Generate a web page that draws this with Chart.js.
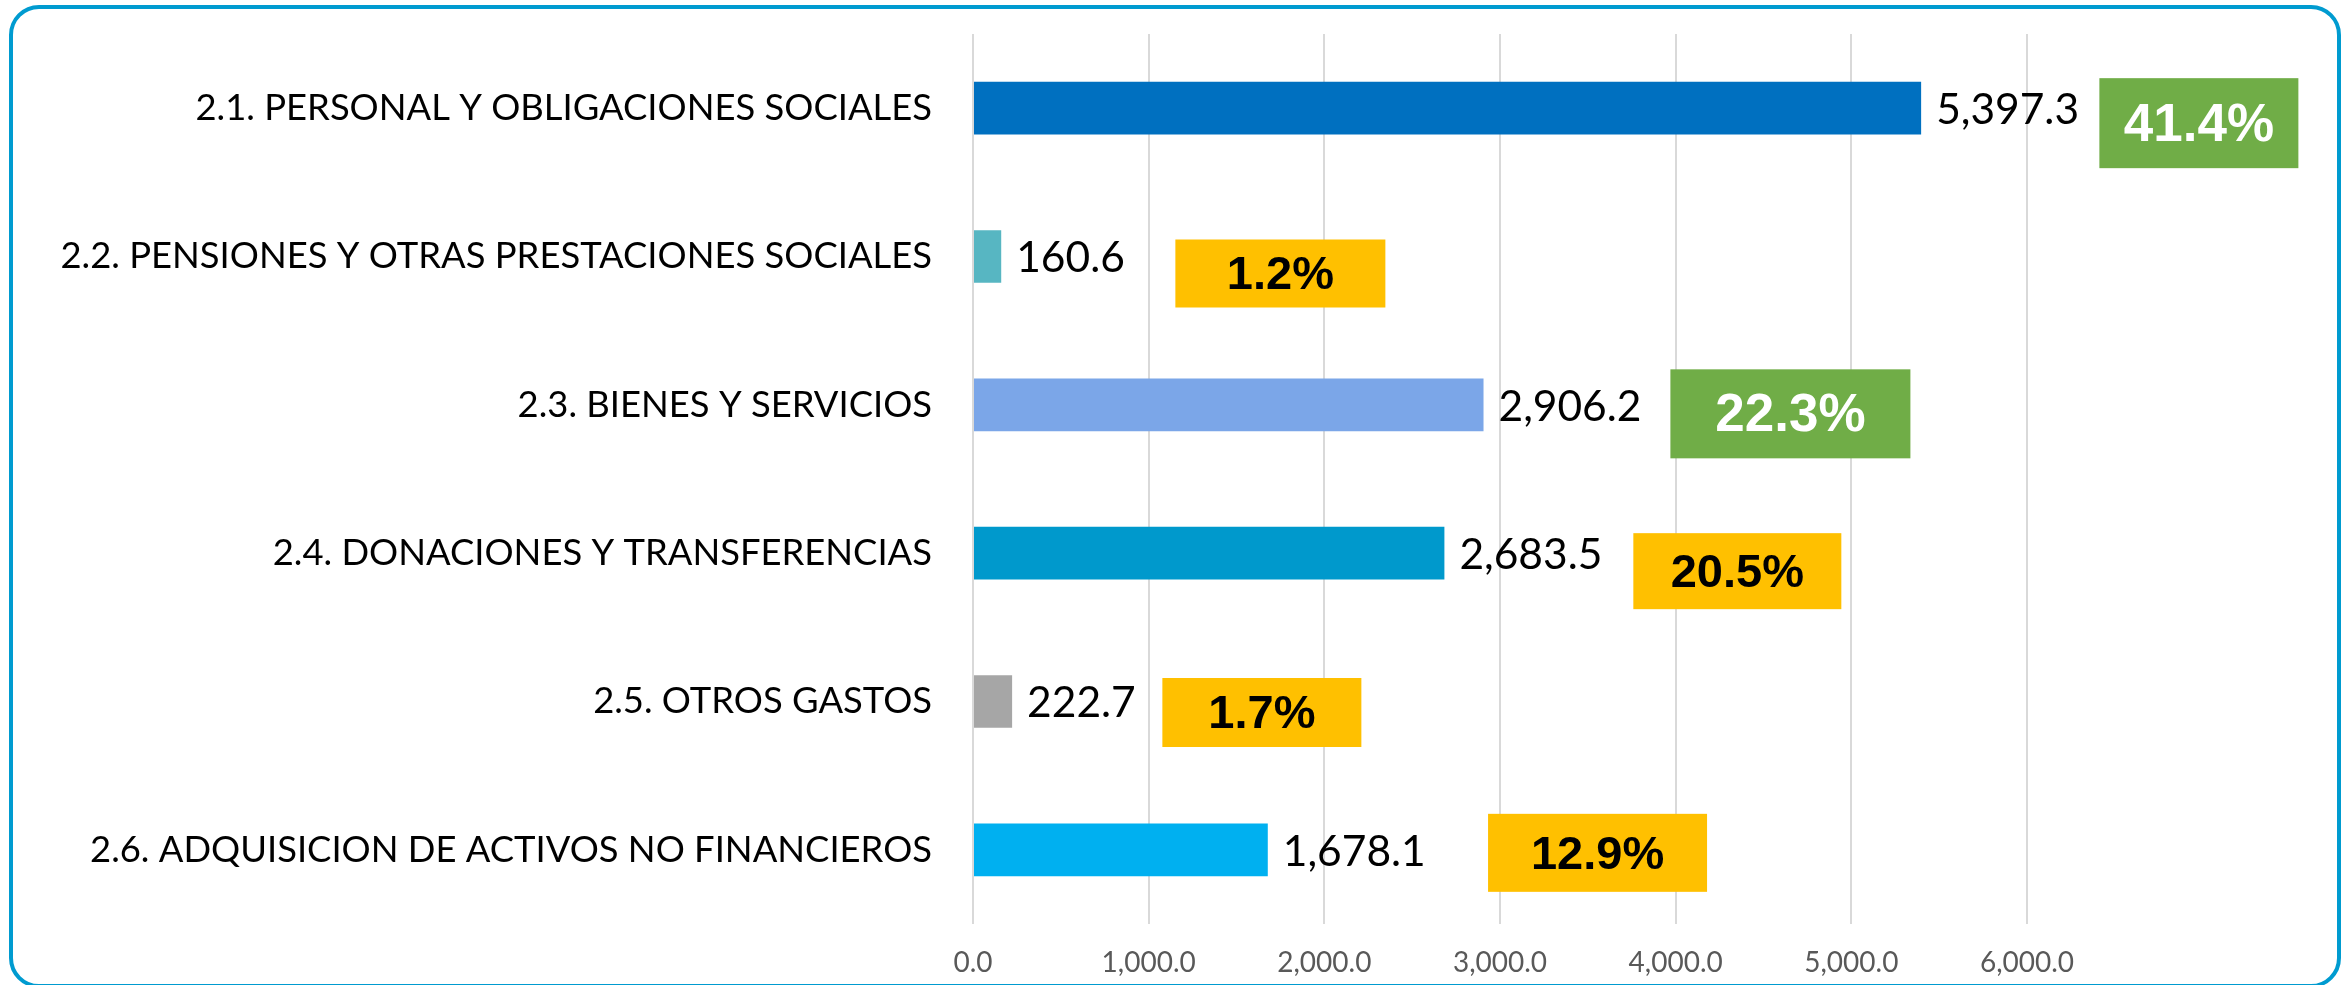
<!DOCTYPE html>
<html>
<head>
<meta charset="utf-8">
<script src="https://cdn.jsdelivr.net/npm/chart.js"></script>
<style>
  html, body { margin: 0; padding: 0; background: #fff; overflow: hidden; }
  #frame {
    position: absolute; left: 9px; top: 5px; width: 2332px; height: 983px;
    box-sizing: border-box; border: 4px solid #009BD0; border-radius: 30px;
  }
  #myChart { position: absolute; left: 0; top: 0; }
</style>
</head>
<body>
<div id="frame"></div>
<canvas id="myChart" width="2346" height="985"></canvas>
<script>
// data
const categories = [
    '2.1. PERSONAL Y OBLIGACIONES SOCIALES',
    '2.2. PENSIONES Y OTRAS PRESTACIONES SOCIALES',
    '2.3. BIENES Y SERVICIOS',
    '2.4. DONACIONES Y TRANSFERENCIAS',
    '2.5. OTROS GASTOS',
    '2.6. ADQUISICION DE ACTIVOS NO FINANCIEROS'
];
const amounts = [5397.3, 160.6, 2906.2, 2683.5, 222.7, 1678.1];
const shares = [41.4, 1.2, 22.3, 20.5, 1.7, 12.9];
const xTicks = ['0.0', '1,000.0', '2,000.0', '3,000.0', '4,000.0', '5,000.0', '6,000.0'];

// look of the chart
const barColors = ['#0070C0', '#57B6C2', '#7BA6E8', '#0099CC', '#A6A6A6', '#00B0F0'];
const boxColors = ['#70AD47', '#FFC000', '#70AD47', '#FFC000', '#FFC000', '#FFC000'];
const boxText = ['#FFFFFF', '#000000', '#FFFFFF', '#000000', '#000000', '#000000'];
const boxFont = [53, 47, 53, 47, 47, 47];
// where each share box sits: left edge in axis units, size and shift in px
const shareBoxes = [
    { x: 6412, w: 199, h: 90, dy: 15 },
    { x: 1152, w: 210, h: 68, dy: 17 },
    { x: 3970, w: 240, h: 89, dy: 9 },
    { x: 3759, w: 208, h: 76, dy: 18 },
    { x: 1078, w: 199, h: 69, dy: 11 },
    { x: 2932, w: 219, h: 78, dy: 3 }
];

const fmt = v => v.toLocaleString('en-US', { minimumFractionDigits: 1, maximumFractionDigits: 1 });

const labelsPlugin = {
    id: 'labels',
    afterDraw(chart) {
        const c = chart.ctx;
        const meta = chart.getDatasetMeta(0);
        const xs = chart.scales.x;
        c.save();
        meta.data.forEach((bar, i) => {
            // value next to the bar
            c.font = '42.5px Lato';
            c.fillStyle = '#000';
            c.textAlign = 'left';
            c.textBaseline = 'middle';
            c.fillText(fmt(amounts[i]), bar.x + 15, bar.y + 2);

            // share box
            const b = shareBoxes[i];
            const left = xs.getPixelForValue(b.x);
            const cy = bar.y + b.dy;
            c.fillStyle = boxColors[i];
            c.fillRect(left, cy - b.h / 2, b.w, b.h);
            c.font = 'bold ' + boxFont[i] + 'px "Liberation Sans"';
            c.fillStyle = boxText[i];
            c.textAlign = 'center';
            c.fillText(shares[i].toFixed(1) + '%', left + b.w / 2, cy + 3);
        });
        c.restore();
    }
};

const ctx = document.getElementById('myChart');
new Chart(ctx, {
    type: 'bar',
    data: {
        labels: categories,
        datasets: [{
            data: amounts,
            backgroundColor: barColors,
            categoryPercentage: 1,
            barPercentage: 0.355
        }]
    },
    options: {
        indexAxis: 'y',
        responsive: false,
        animation: false,
        layout: { padding: { top: 34, right: 319, left: 0, bottom: 0 } },
        plugins: { legend: { display: false }, tooltip: { enabled: false } },
        scales: {
            x: {
                min: 0,
                max: 6000,
                ticks: {
                    stepSize: 1000,
                    padding: 22,
                    color: '#595959',
                    font: { family: 'Lato', size: 28 },
                    callback: (v, i) => xTicks[i]
                },
                grid: { color: '#D9D9D9', lineWidth: 2, drawTicks: false },
                border: { display: false },
                afterFit: s => { s.height = 61; s.paddingLeft = 0; s.paddingRight = 0; }
            },
            y: {
                ticks: {
                    padding: 41,
                    color: '#000',
                    font: { family: 'Lato', size: 36.4 }
                },
                grid: { display: false, drawTicks: false },
                border: { display: false },
                afterFit: s => { s.width = 973; s.paddingTop = 0; s.paddingBottom = 0; }
            }
        }
    },
    plugins: [labelsPlugin]
});
</script>
</body>
</html>
